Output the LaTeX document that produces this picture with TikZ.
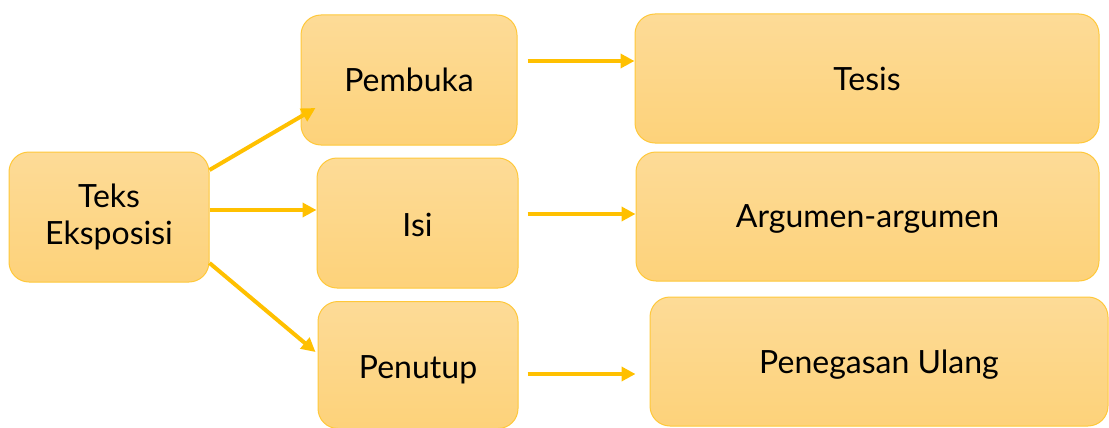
\documentclass[tikz,border=0pt]{standalone}
\usepackage{fontspec}
\setmainfont{Lato}
\usetikzlibrary{arrows.meta}
\definecolor{gtop}{HTML}{FDDB97}
\definecolor{gbot}{HTML}{FDD27A}
\definecolor{gold}{HTML}{FFC000}
\definecolor{edge}{HTML}{FFC83A}
\newcommand{\lowertxt}[2]{\raisebox{-#1}[\height][\depth]{#2}}
\tikzset{
  box/.style={rectangle, rounded corners=20pt, draw=edge, line width=1pt,
    top color=gtop, bottom color=gbot, align=center,
    font=\fontsize{32}{37}\selectfont, inner sep=0pt},
  conn/.style={draw=gold, line width=4pt, -{Triangle[length=14pt,width=14pt]}}
}
\begin{document}
\begin{tikzpicture}[x=1pt,y=-1pt]
\useasboundingbox (0,0) rectangle (1109,428);
\node[box, minimum width=200pt, minimum height=130pt] (teks) at (109,217) {Teks\\Eksposisi};
\node[box, minimum width=216pt, minimum height=130pt] (pembuka) at (409,80) {Pembuka};
\node[box, minimum width=201pt, minimum height=130pt] (isi) at (417.5,223) {\lowertxt{2pt}{Isi}};
\node[box, minimum width=200pt, minimum height=127pt] (penutup) at (418,365) {\lowertxt{5pt}{Penutup}};
\node[box, minimum width=464pt, minimum height=129pt] (tesis) at (867,78.5) {Tesis};
\node[box, minimum width=463pt, minimum height=129pt] (argumen) at (867.5,216.5) {\lowertxt{2pt}{Argumen-argumen}};
\node[box, minimum width=458pt, minimum height=129pt] (penegasan) at (879,361.5) {\lowertxt{3pt}{Penegasan Ulang}};
\coordinate (a1) at ([yshift=47pt]teks.east);
\coordinate (a2) at ([yshift=7pt]teks.east);
\coordinate (a3) at ([yshift=-46pt]teks.east);
\draw[conn] (a1) -- ([xshift=15pt,yshift=-28pt]pembuka.west);
\draw[conn] (a2) -- ([yshift=13pt]isi.west);
\draw[conn] (a3) -- ([xshift=-2pt,yshift=13pt]penutup.west);
\draw[conn] ([xshift=10pt,yshift=19pt]pembuka.east) -- ([yshift=17.5pt]tesis.west);
\draw[conn] ([xshift=9pt,yshift=9pt]isi.east) -- ([yshift=2.5pt]argumen.west);
\draw[conn] ([xshift=9pt,yshift=-9pt]penutup.east) -- ([xshift=-14pt,yshift=-12.5pt]penegasan.west);
\end{tikzpicture}
\end{document}
